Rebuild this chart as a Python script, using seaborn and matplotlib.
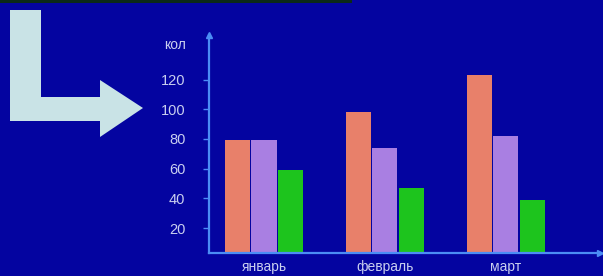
import matplotlib
matplotlib.use("Agg")
import matplotlib.pyplot as plt
from matplotlib.patches import Polygon, Rectangle
import pandas as pd
import seaborn as sns

# data
months = ["январь", "февраль", "март"]
series_names = ["ряд 1", "ряд 2", "ряд 3"]
series_1 = [79, 98, 123]
series_2 = [79, 74, 82]
series_3 = [59, 47, 39]
y_ticks = [20, 40, 60, 80, 100, 120]
y_label = "кол"

BG = "#0404A0"
AXIS = "#4B8DF5"
TEXT = "#C9CFEF"
colors = ["#E8806A", "#A97FE2", "#1DC41D"]

df = pd.DataFrame({
    "month": months * 3,
    "series": [s for s in series_names for _ in months],
    "value": series_1 + series_2 + series_3,
})

sns.set_theme(style="ticks")
plt.rcParams["font.family"] = ["Liberation Sans", "DejaVu Sans"]

W, H = 603, 276
fig = plt.figure(figsize=(W / 100, H / 100), dpi=100)
fig.patch.set_facecolor(BG)

# axes placed where the reference draws them
x0, x1, y_top, y_base = 209, 600, 35, 252.7
ax = fig.add_axes([x0 / W, (H - y_base) / H, (x1 - x0) / W, (y_base - y_top) / H])
ax.set_facecolor(BG)

sns.barplot(data=df, x="month", y="value", hue="series", palette=colors,
            width=0.66, gap=0.05, order=months, hue_order=series_names,
            saturation=1, edgecolor="none", legend=False, ax=ax)

ax.set_xlim(-0.455, 2.78)
ax.set_ylim(3.4, 150)
ax.set_yticks(y_ticks)
ax.set_xlabel("")
ax.set_ylabel("")

for side in ["top", "right"]:
    ax.spines[side].set_visible(False)
for side in ["left", "bottom"]:
    ax.spines[side].set_color(AXIS)
    ax.spines[side].set_linewidth(1.6)

ax.tick_params(axis="y", colors=AXIS, labelcolor=TEXT, length=4, width=1,
               pad=13, labelsize=10.5)
ax.tick_params(axis="x", length=0, pad=5, labelcolor=TEXT, labelsize=10)

# small arrow heads at the axis ends
ax.plot([0], [1], marker="^", color=AXIS, markersize=4, transform=ax.transAxes,
        clip_on=False)
ax.plot([1], [0], marker=">", color=AXIS, markersize=4, transform=ax.transAxes,
        clip_on=False)

fig.text(175 / W, 1 - 45 / H, y_label, color=TEXT, fontsize=10,
         ha="center", va="center")

# decorative L-shaped arrow on the left
pts = [(10, 10), (41, 10), (41, 97), (100, 97), (100, 80), (143, 108),
       (100, 137), (100, 121), (10, 121)]
fig.patches.append(Polygon([(x / W, 1 - y / H) for x, y in pts], closed=True,
                           facecolor="#C9E3E6", edgecolor="none",
                           transform=fig.transFigure))
# dark strip of cut-off title at the very top
fig.patches.append(Rectangle((0, 1 - 3 / H), 352 / W, 3 / H, facecolor="#0B2A18",
                             edgecolor="none", transform=fig.transFigure))

fig.savefig("out.png", dpi=100, facecolor=BG)
